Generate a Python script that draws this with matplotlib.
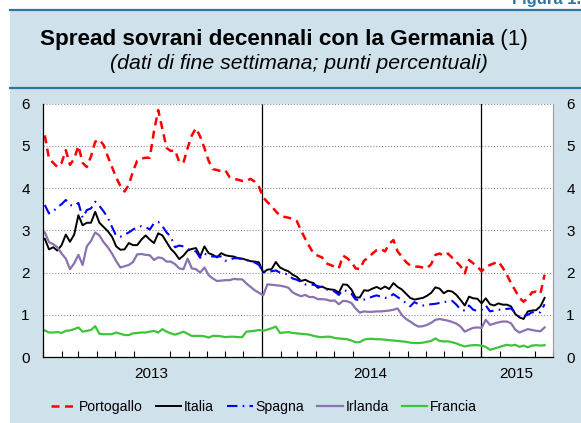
import pandas as pd
import matplotlib
matplotlib.use('Agg')
import matplotlib.pyplot as plt
import matplotlib.dates as mdates
from matplotlib.patches import Rectangle
from matplotlib.lines import Line2D

plt.rcParams['font.family'] = ['Liberation Sans', 'DejaVu Sans']

# weekly end-of-week data, first Friday of 2013 onward
dates = pd.date_range('2013-01-04', periods=120, freq='7D')

portogallo = [
    5.25, 4.7, 4.6, 4.5, 4.6, 4.9, 4.55, 4.7, 5.0, 4.6,
    4.5, 4.75, 5.1, 5.15, 5.02, 4.75, 4.5, 4.25, 4.05, 3.92,
    4.08, 4.4, 4.65, 4.7, 4.72, 4.72, 5.35, 5.85, 5.4, 4.95,
    4.88, 4.9, 4.62, 4.6, 4.95, 5.25, 5.42, 5.22, 4.95, 4.65,
    4.45, 4.43, 4.4, 4.42, 4.26, 4.22, 4.2, 4.17, 4.17, 4.22,
    4.15, 4.03, 3.78, 3.67, 3.57, 3.45, 3.35, 3.32, 3.3, 3.27,
    3.22, 3.0, 2.8, 2.62, 2.45, 2.4, 2.36, 2.22, 2.18, 2.14,
    2.1, 2.4, 2.34, 2.25, 2.1, 2.08, 2.28, 2.35, 2.45, 2.53,
    2.56, 2.5, 2.68, 2.77, 2.5, 2.38, 2.25, 2.17, 2.14, 2.14,
    2.12, 2.1, 2.2, 2.42, 2.45, 2.4, 2.45, 2.35, 2.25, 2.15,
    1.98, 2.3, 2.22, 2.14, 2.03, 2.13, 2.18, 2.22, 2.26, 2.12,
    1.95, 1.75, 1.58, 1.4, 1.31, 1.4, 1.53, 1.55, 1.5, 1.95,
]
italia = [
    2.8, 2.55, 2.6, 2.52, 2.65, 2.9, 2.73, 2.9, 3.36, 3.12,
    3.18, 3.18, 3.44, 3.18, 3.08, 2.98, 2.85, 2.62, 2.54, 2.55,
    2.7, 2.65, 2.65, 2.78, 2.88, 2.78, 2.7, 2.93, 2.88, 2.72,
    2.56, 2.46, 2.32, 2.4, 2.52, 2.56, 2.58, 2.38, 2.62, 2.46,
    2.42, 2.36, 2.46, 2.41, 2.39, 2.38, 2.34, 2.33, 2.3, 2.27,
    2.26, 2.24, 2.0, 2.07, 2.08, 2.25, 2.12, 2.07, 2.03, 1.95,
    1.9, 1.8, 1.83, 1.78, 1.75, 1.64, 1.67, 1.62, 1.6, 1.59,
    1.52, 1.72, 1.71, 1.6, 1.41, 1.41, 1.58, 1.57, 1.62, 1.66,
    1.61, 1.67, 1.61, 1.75, 1.66, 1.6, 1.5, 1.4, 1.36, 1.38,
    1.4, 1.45, 1.52, 1.65, 1.62, 1.51, 1.57, 1.55, 1.47, 1.35,
    1.22, 1.43, 1.39, 1.38, 1.27, 1.39, 1.25, 1.22, 1.27, 1.24,
    1.24, 1.2, 1.02, 0.94, 0.9, 1.08, 1.1, 1.11, 1.2, 1.4,
]
spagna = [
    3.6, 3.4, 3.45, 3.55, 3.62, 3.72, 3.6, 3.58, 3.65, 3.3,
    3.48, 3.52, 3.68, 3.58, 3.45, 3.3, 3.08, 2.87, 2.85, 2.9,
    2.95, 3.02, 3.07, 3.1, 3.08, 3.02, 3.17, 3.2, 3.1, 2.95,
    2.85, 2.6, 2.64, 2.62, 2.56, 2.52, 2.5, 2.35, 2.45, 2.4,
    2.38, 2.38, 2.38, 2.28, 2.3, 2.34, 2.34, 2.32, 2.3, 2.26,
    2.24, 2.18, 2.0, 2.04, 2.03, 2.05, 2.0, 1.98, 1.95, 1.86,
    1.83, 1.78, 1.72, 1.71, 1.71, 1.68, 1.65, 1.6, 1.59, 1.55,
    1.47, 1.59, 1.56, 1.5, 1.36, 1.35, 1.36, 1.39, 1.43, 1.46,
    1.43, 1.4, 1.42, 1.49, 1.42, 1.35, 1.28, 1.2, 1.3, 1.25,
    1.22, 1.24, 1.25, 1.26, 1.28, 1.3, 1.32, 1.33, 1.24, 1.12,
    1.1, 1.22, 1.12, 1.09, 1.12, 1.22, 1.08, 1.1, 1.12, 1.12,
    1.14, 1.15, 1.05, 0.95, 0.97, 1.0, 1.06, 1.05, 1.06, 1.25,
]
irlanda = [
    2.95, 2.72, 2.67, 2.6, 2.45, 2.33, 2.08, 2.22, 2.42, 2.18,
    2.62, 2.75, 2.95, 2.88, 2.72, 2.6, 2.45, 2.27, 2.12, 2.15,
    2.18, 2.25, 2.43, 2.44, 2.42, 2.41, 2.3, 2.36, 2.34, 2.26,
    2.26, 2.2, 2.1, 2.08, 2.33, 2.1, 2.08, 2.0, 2.12, 1.94,
    1.86, 1.8, 1.81, 1.82, 1.82, 1.85, 1.84, 1.84, 1.74, 1.66,
    1.58, 1.52, 1.46, 1.72, 1.71, 1.7, 1.69, 1.67, 1.64, 1.53,
    1.48, 1.44, 1.47, 1.42, 1.42, 1.37, 1.37, 1.36, 1.33, 1.34,
    1.25, 1.33, 1.32, 1.28, 1.15, 1.05, 1.08, 1.07, 1.07, 1.08,
    1.08, 1.09, 1.1, 1.12, 1.15, 1.0, 0.9, 0.84, 0.77, 0.72,
    0.73, 0.76, 0.81, 0.88, 0.9, 0.88, 0.86, 0.83, 0.79, 0.72,
    0.6, 0.65, 0.69, 0.7, 0.69, 0.88, 0.76, 0.79, 0.82, 0.84,
    0.84, 0.8, 0.65, 0.58, 0.62, 0.66, 0.64, 0.62, 0.61, 0.7,
]
francia = [
    0.63, 0.58, 0.58, 0.59, 0.57, 0.62, 0.63, 0.66, 0.7, 0.6,
    0.62, 0.64, 0.73, 0.55, 0.54, 0.54, 0.54, 0.58, 0.55, 0.52,
    0.52, 0.56, 0.57, 0.58, 0.58, 0.6, 0.62, 0.58, 0.66, 0.6,
    0.56, 0.53, 0.56, 0.6, 0.55, 0.5, 0.5, 0.5, 0.49, 0.46,
    0.5, 0.5, 0.49, 0.47, 0.48, 0.48, 0.47, 0.47, 0.6, 0.61,
    0.62, 0.64, 0.62, 0.65, 0.68, 0.72, 0.57, 0.58, 0.59, 0.57,
    0.56, 0.55, 0.54, 0.53, 0.5, 0.48, 0.47, 0.48, 0.48, 0.45,
    0.44, 0.43, 0.42, 0.39, 0.35, 0.35, 0.41, 0.43, 0.43, 0.42,
    0.42, 0.41, 0.4, 0.39, 0.38, 0.37, 0.36, 0.34, 0.33, 0.33,
    0.34, 0.36, 0.38, 0.44, 0.38, 0.37, 0.37, 0.35, 0.32, 0.28,
    0.25, 0.27, 0.28, 0.28, 0.27, 0.24, 0.17, 0.2, 0.23, 0.26,
    0.29, 0.27, 0.29, 0.24, 0.27, 0.23, 0.27, 0.28, 0.27, 0.28,
]

year_labels = ['2013', '2014', '2015']
year_label_pos = pd.to_datetime(['2013-07-01', '2014-07-01', '2015-03-01'])
year_breaks = pd.to_datetime(['2014-01-01', '2015-01-01'])

W, H = 581, 423
panel = '#cfe1eb'
teal = '#2d76a0'

fig = plt.figure(figsize=(W / 100, H / 100), dpi=100)
fig.patch.set_facecolor('white')
fig.patches.append(Rectangle((10 / W, 0), 1, 1 - 10 / H, transform=fig.transFigure,
                             facecolor=panel, edgecolor='none', zorder=-10))
for ypx in (10, 88):
    fig.add_artist(Line2D([10 / W, 1], [1 - ypx / H] * 2, color=teal, lw=1.6))
fig.text(1.0, 1 - 4 / H, 'Figura 1.', ha='right', va='baseline', fontsize=12,
         weight='bold', color=teal)

# title: bold part + "(1)" in regular weight, centred together
t1 = fig.text(0, 1 - 45 / H, 'Spread sovrani decennali con la Germania', fontsize=16.2,
              weight='bold', ha='left', va='baseline')
t2 = fig.text(0, 1 - 45 / H, ' (1)', fontsize=16.2, ha='left', va='baseline')
fig.canvas.draw()
r = fig.canvas.get_renderer()
w1 = t1.get_window_extent(r).width
w2 = t2.get_window_extent(r).width
x0 = 284 - (w1 + w2) / 2
t1.set_x(x0 / W)
t2.set_x((x0 + w1) / W)
fig.text(299 / W, 1 - 69 / H, '(dati di fine settimana; punti percentuali)', fontsize=15.3,
         style='italic', ha='center', va='baseline')

ax = fig.add_axes([43 / W, 1 - 357 / H, (553 - 43) / W, (357 - 103.7) / H])
ax.set_facecolor('white')

ax.plot(dates, portogallo, color='#ff0000', lw=1.8, dashes=(3.2, 2.2), label='Portogallo')
ax.plot(dates, italia, color='black', lw=1.4, label='Italia')
ax.plot(dates, spagna, color='#0000ff', lw=1.5, dashes=(5, 2.5, 0.8, 2.5), label='Spagna')
ax.plot(dates, irlanda, color='#8b72b0', lw=1.6, label='Irlanda')
ax.plot(dates, francia, color='#3ec43a', lw=1.6, label='Francia')

for d in year_breaks:
    ax.axvline(d, color='black', lw=0.9, zorder=1)

ax.set_ylim(0, 6)
ax.set_yticks(range(7))
ax.grid(axis='y', linestyle=':', color='#8c8c8c', lw=0.8)
ax.tick_params(axis='y', length=0, labelsize=11, pad=9.5,
               labelleft=True, labelright=True)

ax.set_xlim(pd.Timestamp('2013-01-01'), pd.Timestamp('2015-05-01'))
ax.xaxis.set_minor_locator(mdates.MonthLocator())
ax.set_xticks(year_label_pos)
ax.set_xticklabels(year_labels)
ax.tick_params(axis='x', which='major', length=0, labelsize=11, pad=7)
ax.tick_params(axis='x', which='minor', direction='in', length=4, width=0.8)

ax.spines['top'].set_visible(False)
ax.spines['right'].set_color('#9a9a9a')
ax.spines['left'].set_linewidth(0.9)
ax.spines['bottom'].set_linewidth(0.9)

fig.legend(*ax.get_legend_handles_labels(), loc='center', bbox_to_anchor=(264 / W, 1 - 407 / H),
           ncol=5, frameon=False, fontsize=10.1, handlelength=1.8, handletextpad=0.2,
           columnspacing=0.95, borderaxespad=0)

fig.savefig('out.png', dpi=100)
